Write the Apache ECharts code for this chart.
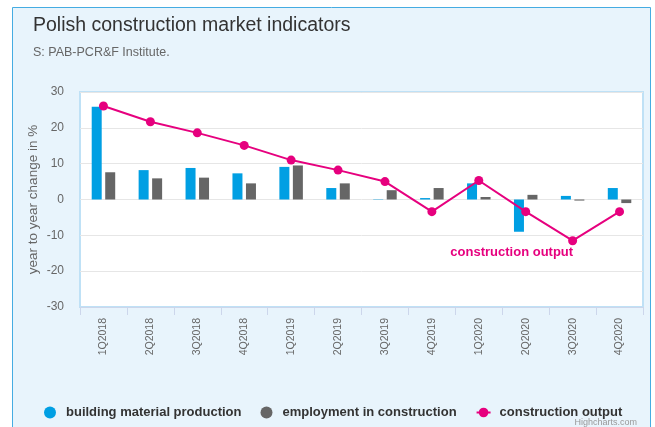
<!DOCTYPE html>
<html>
<head>
<meta charset="utf-8">
<script src="https://cdn.jsdelivr.net/npm/echarts@6/dist/echarts.min.js"></script>
<style>
  html, body { margin: 0; padding: 0; background: #fff; }
  #chart { width: 655px; height: 427px; }
</style>
</head>
<body>
<div id="chart"></div>
<script>
// quarters on the x axis
var categories = ['1Q2018', '2Q2018', '3Q2018', '4Q2018', '1Q2019', '2Q2019',
  '3Q2019', '4Q2019', '1Q2020', '2Q2020', '3Q2020', '4Q2020']
// year to year change, %
var buildingMaterial = [25.9, 8.2, 8.8, 7.3, 9.1, 3.2, 0.1, 0.4, 4.5, -9.0, 1.0, 3.2]
var employment = [7.6, 5.9, 6.1, 4.5, 9.5, 4.5, 2.6, 3.2, 0.7, 1.3, -0.3, -1.0]
var constructionOutput = [26.1, 21.7, 18.6, 15.1, 11.0, 8.2, 5.0, -3.4, 5.3, -3.4, -11.5, -3.4]

var chart = echarts.init(document.getElementById('chart'))

// label on the 3Q2020 point of the line
var outputData = constructionOutput.map(function (v, i) {
  if (i === 10) {
    return {
      value: v,
      label: {
        show: true,
        position: 'left',
        offset: [10, 12],
        formatter: 'construction output',
        color: '#e6007e',
        fontWeight: 'bold',
        fontSize: 13
      }
    }
  }
  return v
})

chart.setOption({
  backgroundColor: '#fff',
  textStyle: { fontFamily: 'Liberation Sans, Arial, sans-serif' },
  graphic: [
    {
      type: 'rect',
      z: -10,
      silent: true,
      shape: { x: 12.5, y: 7.5, width: 638, height: 430 },
      style: { fill: '#e8f4fc', stroke: '#45ace2', lineWidth: 1 }
    },
    {
      type: 'text',
      right: 18,
      bottom: 0,
      style: { text: 'Highcharts.com', fill: '#999', fontSize: 9 }
    }
  ],
  title: {
    text: 'Polish construction market indicators',
    subtext: 'S: PAB-PCR&F Institute.',
    left: 28,
    top: 11,
    itemGap: 10,
    textStyle: { color: '#333', fontSize: 19.5, fontWeight: 'normal' },
    subtextStyle: { color: '#666', fontSize: 12.5 }
  },
  legend: {
    bottom: 3,
    left: 39,
    itemGap: 19,
    itemWidth: 14,
    itemHeight: 12,
    textStyle: { color: '#333', fontSize: 13, fontWeight: 'bold', padding: [0, 0, 0, 4] },
    data: [
      { name: 'building material production', icon: 'circle' },
      { name: 'employment in construction', icon: 'circle' },
      { name: 'construction output' }
    ]
  },
  grid: {
    left: 80,
    right: 12,
    top: 92,
    bottom: 120,
    show: true,
    backgroundColor: '#fff',
    borderColor: '#bfe1f6',
    borderWidth: 2
  },
  xAxis: {
    type: 'category',
    data: categories,
    axisLine: { onZero: false, lineStyle: { color: '#ccd6eb' } },
    axisTick: { show: true, length: 8, lineStyle: { color: '#ccd6eb' } },
    axisLabel: { rotate: 90, color: '#666', fontSize: 10.5, margin: 11 }
  },
  yAxis: {
    type: 'value',
    min: -30,
    max: 30,
    interval: 10,
    name: 'year to year change in %',
    nameLocation: 'middle',
    nameGap: 40,
    nameMoveOverlap: false,
    nameTextStyle: { color: '#666', fontSize: 13.5 },
    axisLabel: { color: '#666', fontSize: 12, margin: 16 },
    splitLine: { lineStyle: { color: '#e6e6e6' } }
  },
  series: [
    {
      name: 'building material production',
      type: 'bar',
      data: buildingMaterial,
      barWidth: 10,
      barGap: '35%',
      itemStyle: { color: '#009fe3' }
    },
    {
      name: 'employment in construction',
      type: 'bar',
      data: employment,
      barWidth: 10,
      itemStyle: { color: '#666666' }
    },
    {
      name: 'construction output',
      type: 'line',
      data: outputData,
      symbol: 'circle',
      symbolSize: 9,
      lineStyle: { color: '#e6007e', width: 2 },
      itemStyle: { color: '#e6007e' }
    }
  ]
})
</script>
</body>
</html>
